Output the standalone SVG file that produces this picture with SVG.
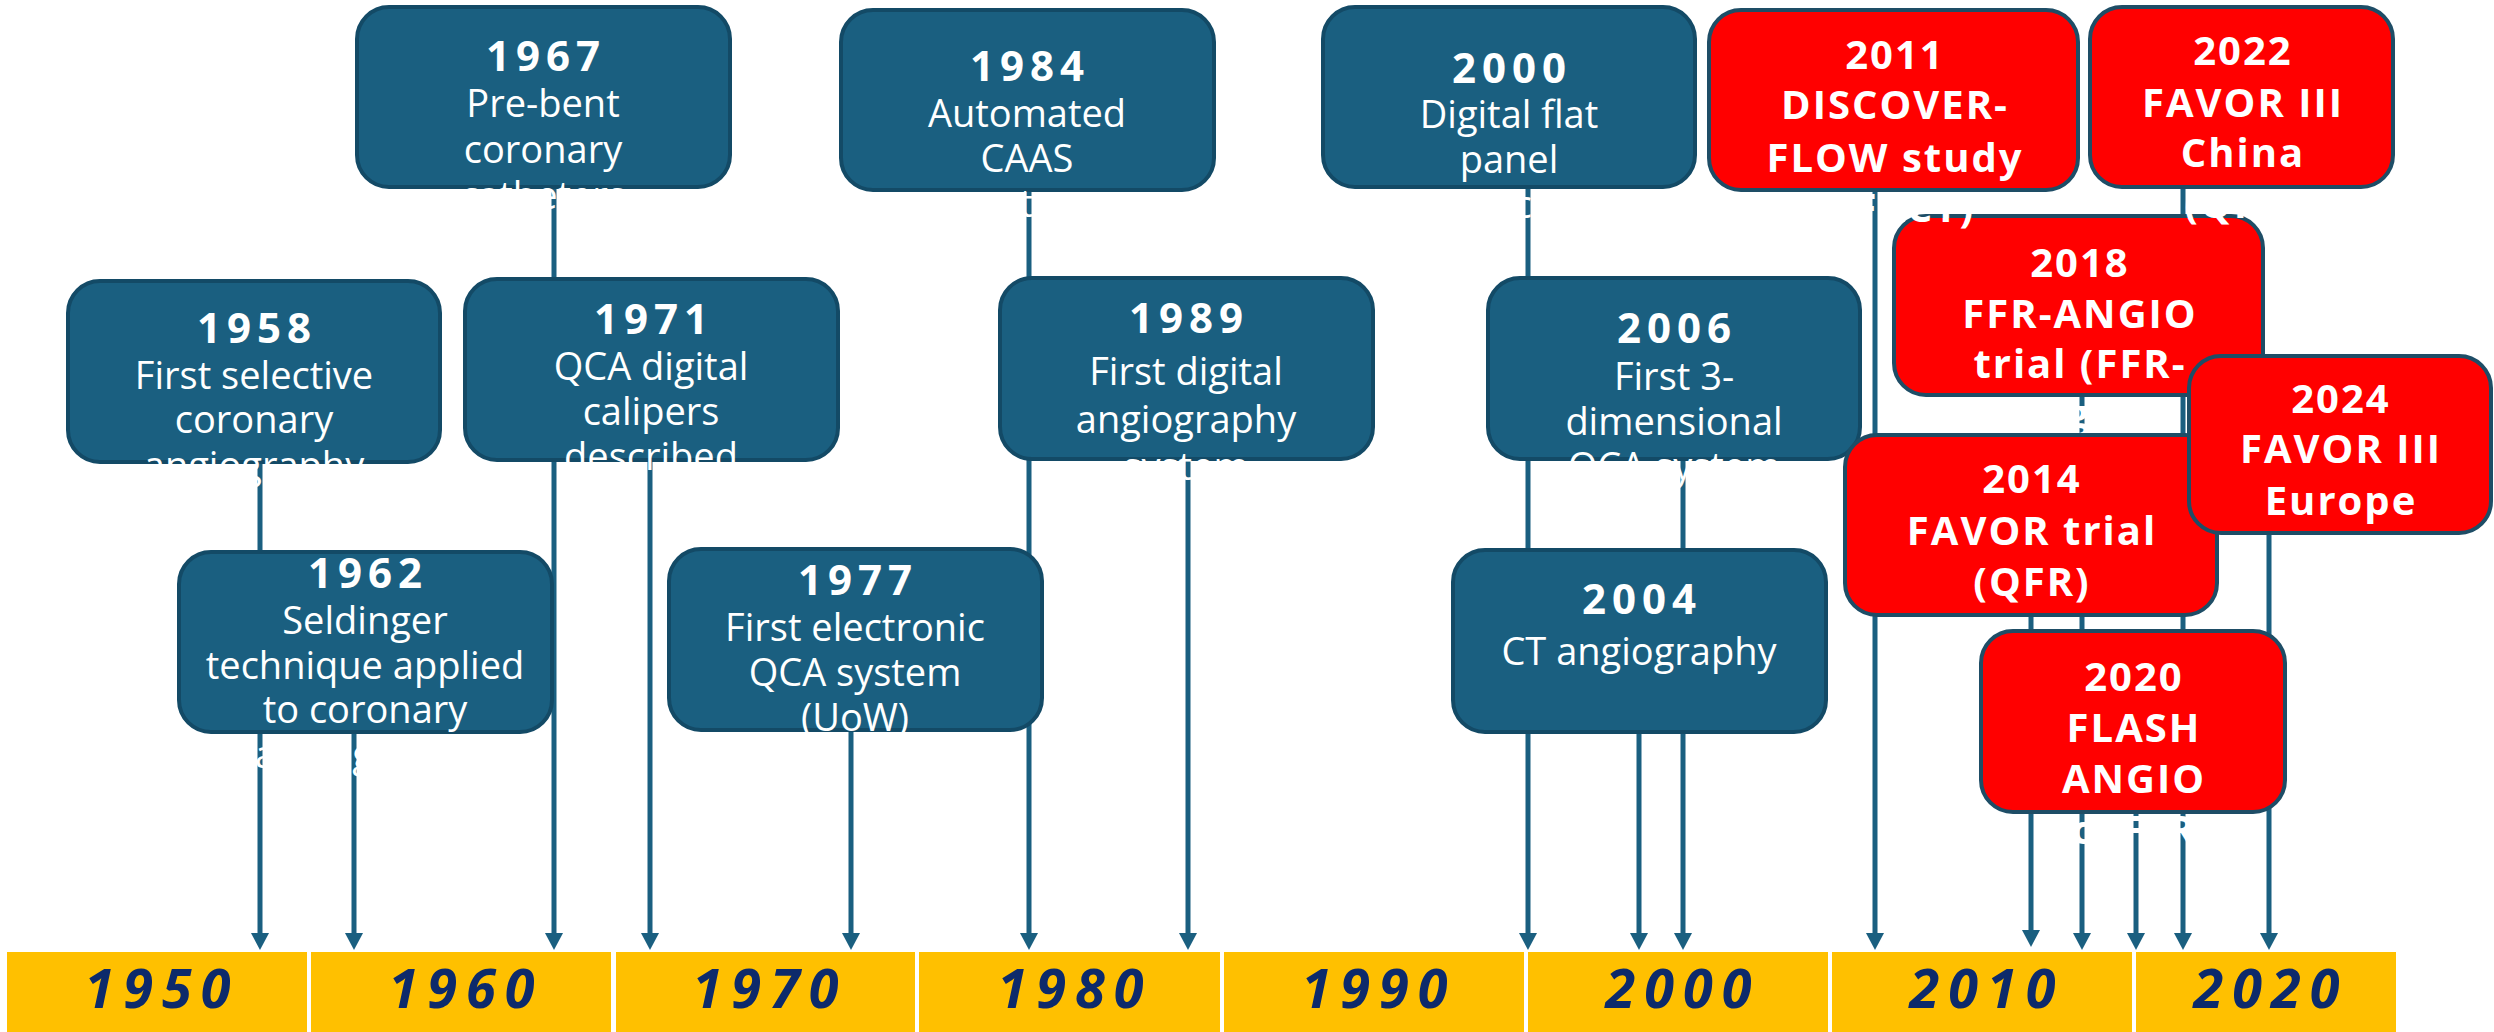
<svg xmlns="http://www.w3.org/2000/svg" width="2494" height="1032" viewBox="0 0 2494 1032">
  <defs>
    <style>
      .box { fill: #1A5F80; stroke: #134A66; stroke-width: 4; }
      .red { fill: #FF0000; stroke: #1E4D66; stroke-width: 4; }
      .lbl { font-family: 'Open Sans', 'Liberation Sans', sans-serif; fill: #FFFFFF; text-anchor: middle; }
      .yr { font-weight: bold; font-size: 42px; letter-spacing: 6px; }
      .ds { font-size: 38px; }
      .rd { font-family: 'Open Sans', 'Liberation Sans', sans-serif; font-weight: bold; font-size: 40px; fill: #FFFFFF; letter-spacing: 2px; text-anchor: middle; }
      .seg { fill: #FFC000; }
      .dec { font-family: 'Open Sans', 'Liberation Sans', sans-serif; font-style: italic; font-weight: bold; font-size: 54px; fill: #0D2A6B; letter-spacing: 9px; text-anchor: middle; }
      .link { stroke: #1A5F80; stroke-width: 5; fill: none; marker-end: url(#arrow); }
    </style>
    <marker id="arrow" markerUnits="userSpaceOnUse" markerWidth="20" markerHeight="20" viewBox="0 -10 18 20" refX="0" refY="0" orient="auto">
      <path d="M0,-9 L17,0 L0,9 Z" fill="#1A5F80"/>
    </marker>
  </defs>

  <!-- decade bar -->
  <g id="timeline">
    <rect class="seg" x="7" y="952" width="300" height="80"/>
    <rect class="seg" x="311" y="952" width="300" height="80"/>
    <rect class="seg" x="616" y="952" width="299" height="80"/>
    <rect class="seg" x="919" y="952" width="301" height="80"/>
    <rect class="seg" x="1224" y="952" width="300" height="80"/>
    <rect class="seg" x="1528" y="952" width="300" height="80"/>
    <rect class="seg" x="1832" y="952" width="300" height="80"/>
    <rect class="seg" x="2136" y="952" width="260" height="80"/>
    <text class="dec" x="162" y="1008">1950</text>
    <text class="dec" x="466" y="1008">1960</text>
    <text class="dec" x="770" y="1008">1970</text>
    <text class="dec" x="1075" y="1008">1980</text>
    <text class="dec" x="1379" y="1008">1990</text>
    <text class="dec" x="1683" y="1008">2000</text>
    <text class="dec" x="1987" y="1008">2010</text>
    <text class="dec" x="2271" y="1008">2020</text>
  </g>

  <!-- drop lines from each event down to the bar -->
  <g id="connectors">
    <line class="link" x1="260" y1="455" x2="260" y2="933"/>
    <line class="link" x1="354" y1="725" x2="354" y2="933"/>
    <line class="link" x1="554" y1="180" x2="554" y2="933"/>
    <line class="link" x1="650" y1="455" x2="650" y2="933"/>
    <line class="link" x1="851" y1="725" x2="851" y2="933"/>
    <line class="link" x1="1029" y1="185" x2="1029" y2="933"/>
    <line class="link" x1="1188" y1="455" x2="1188" y2="933"/>
    <line class="link" x1="1528" y1="180" x2="1528" y2="933"/>
    <line class="link" x1="1639" y1="725" x2="1639" y2="933"/>
    <line class="link" x1="1683" y1="455" x2="1683" y2="933"/>
    <line class="link" x1="1875" y1="185" x2="1875" y2="933"/>
    <line class="link" x1="2031" y1="610" x2="2031" y2="930"/>
    <line class="link" x1="2082" y1="390" x2="2082" y2="933"/>
    <line class="link" x1="2136" y1="805" x2="2136" y2="933"/>
    <line class="link" x1="2183" y1="180" x2="2183" y2="933"/>
    <line class="link" x1="2269" y1="528" x2="2269" y2="933"/>
  </g>

  <!-- historical milestones -->
  <g id="n1967">
    <rect class="box" x="357" y="7" width="373" height="180" rx="32"/>
    <text class="lbl"><tspan class="yr" x="546" y="71">1967</tspan><tspan class="ds" x="543" y="117">Pre-bent</tspan><tspan class="ds" x="543" y="163">coronary</tspan><tspan class="ds" x="543" y="209">catheters</tspan></text>
  </g>
  <g id="n1958">
    <rect class="box" x="68" y="281" width="372" height="181" rx="32"/>
    <text class="lbl"><tspan class="yr" x="257" y="343">1958</tspan><tspan class="ds" x="254" y="389">First selective</tspan><tspan class="ds" x="254" y="433">coronary</tspan><tspan class="ds" x="254" y="479">angiography</tspan></text>
  </g>
  <g id="n1971">
    <rect class="box" x="465" y="279" width="373" height="181" rx="32"/>
    <text class="lbl"><tspan class="yr" x="654" y="334">1971</tspan><tspan class="ds" x="651" y="380">QCA digital</tspan><tspan class="ds" x="651" y="425">calipers</tspan><tspan class="ds" x="651" y="470">described</tspan></text>
  </g>
  <g id="n1962">
    <rect class="box" x="179" y="552" width="373" height="180" rx="32"/>
    <text class="lbl"><tspan class="yr" x="368" y="588">1962</tspan><tspan class="ds" x="365" y="634">Seldinger</tspan><tspan class="ds" x="365" y="679">technique applied</tspan><tspan class="ds" x="365" y="723">to coronary</tspan><tspan class="ds" x="365" y="768">angiography</tspan></text>
  </g>
  <g id="n1977">
    <rect class="box" x="669" y="549" width="373" height="181" rx="32"/>
    <text class="lbl"><tspan class="yr" x="858" y="595">1977</tspan><tspan class="ds" x="855" y="641">First electronic</tspan><tspan class="ds" x="855" y="686">QCA system</tspan><tspan class="ds" x="855" y="731">(UoW)</tspan></text>
  </g>
  <g id="n1984">
    <rect class="box" x="841" y="10" width="373" height="180" rx="32"/>
    <text class="lbl"><tspan class="yr" x="1030" y="81">1984</tspan><tspan class="ds" x="1027" y="127">Automated</tspan><tspan class="ds" x="1027" y="172">CAAS</tspan><tspan class="ds" x="1027" y="217">system</tspan></text>
  </g>
  <g id="n1989">
    <rect class="box" x="1000" y="278" width="373" height="181" rx="32"/>
    <text class="lbl"><tspan class="yr" x="1189" y="333">1989</tspan><tspan class="ds" x="1186" y="385">First digital</tspan><tspan class="ds" x="1186" y="433">angiography</tspan><tspan class="ds" x="1186" y="480">system</tspan></text>
  </g>
  <g id="n2000">
    <rect class="box" x="1323" y="7" width="372" height="180" rx="32"/>
    <text class="lbl"><tspan class="yr" x="1512" y="83">2000</tspan><tspan class="ds" x="1509" y="128">Digital flat</tspan><tspan class="ds" x="1509" y="173">panel</tspan><tspan class="ds" x="1509" y="218">detector</tspan></text>
  </g>
  <g id="n2006">
    <rect class="box" x="1488" y="278" width="372" height="181" rx="32"/>
    <text class="lbl"><tspan class="yr" x="1677" y="343">2006</tspan><tspan class="ds" x="1674" y="390">First 3-</tspan><tspan class="ds" x="1674" y="435">dimensional</tspan><tspan class="ds" x="1674" y="480">QCA system</tspan></text>
  </g>
  <g id="n2004">
    <rect class="box" x="1453" y="550" width="373" height="182" rx="32"/>
    <text class="lbl"><tspan class="yr" x="1642" y="614">2004</tspan><tspan class="ds" x="1639" y="665">CT angiography</tspan></text>
  </g>

  <!-- physiology trials -->
  <g id="n2018">
    <rect class="red" x="1894" y="216" width="369" height="179" rx="32"/>
    <text class="rd"><tspan x="2080" y="277">2018</tspan><tspan x="2080" y="328">FFR-ANGIO</tspan><tspan x="2080" y="378">trial (FFR-</tspan><tspan x="2080" y="428">angio)</tspan></text>
  </g>
  <g id="n2022">
    <rect class="red" x="2090" y="7" width="303" height="180" rx="32"/>
    <text class="rd"><tspan x="2243" y="65">2022</tspan><tspan x="2243" y="117">FAVOR III</tspan><tspan x="2243" y="167">China</tspan><tspan x="2243" y="218">(QFR)</tspan></text>
  </g>
  <g id="n2011">
    <rect class="red" x="1709" y="10" width="369" height="180" rx="32"/>
    <text class="rd"><tspan x="1895" y="69">2011</tspan><tspan x="1895" y="119">DISCOVER-</tspan><tspan x="1895" y="172">FLOW study</tspan><tspan x="1895" y="222">(FFRCT)</tspan></text>
  </g>
  <g id="n2014">
    <rect class="red" x="1845" y="435" width="372" height="180" rx="32"/>
    <text class="rd"><tspan x="2032" y="493">2014</tspan><tspan x="2032" y="545">FAVOR trial</tspan><tspan x="2032" y="596">(QFR)</tspan></text>
  </g>
  <g id="n2024">
    <rect class="red" x="2189" y="356" width="302" height="177" rx="32"/>
    <text class="rd"><tspan x="2341" y="413">2024</tspan><tspan x="2341" y="463">FAVOR III</tspan><tspan x="2341" y="515">Europe</tspan><tspan x="2341" y="566">(QFR)</tspan></text>
  </g>
  <g id="n2020">
    <rect class="red" x="1981" y="631" width="304" height="181" rx="32"/>
    <text class="rd"><tspan x="2134" y="691">2020</tspan><tspan x="2134" y="742">FLASH</tspan><tspan x="2134" y="793">ANGIO</tspan><tspan x="2134" y="844">(caFFR)</tspan></text>
  </g>
</svg>
